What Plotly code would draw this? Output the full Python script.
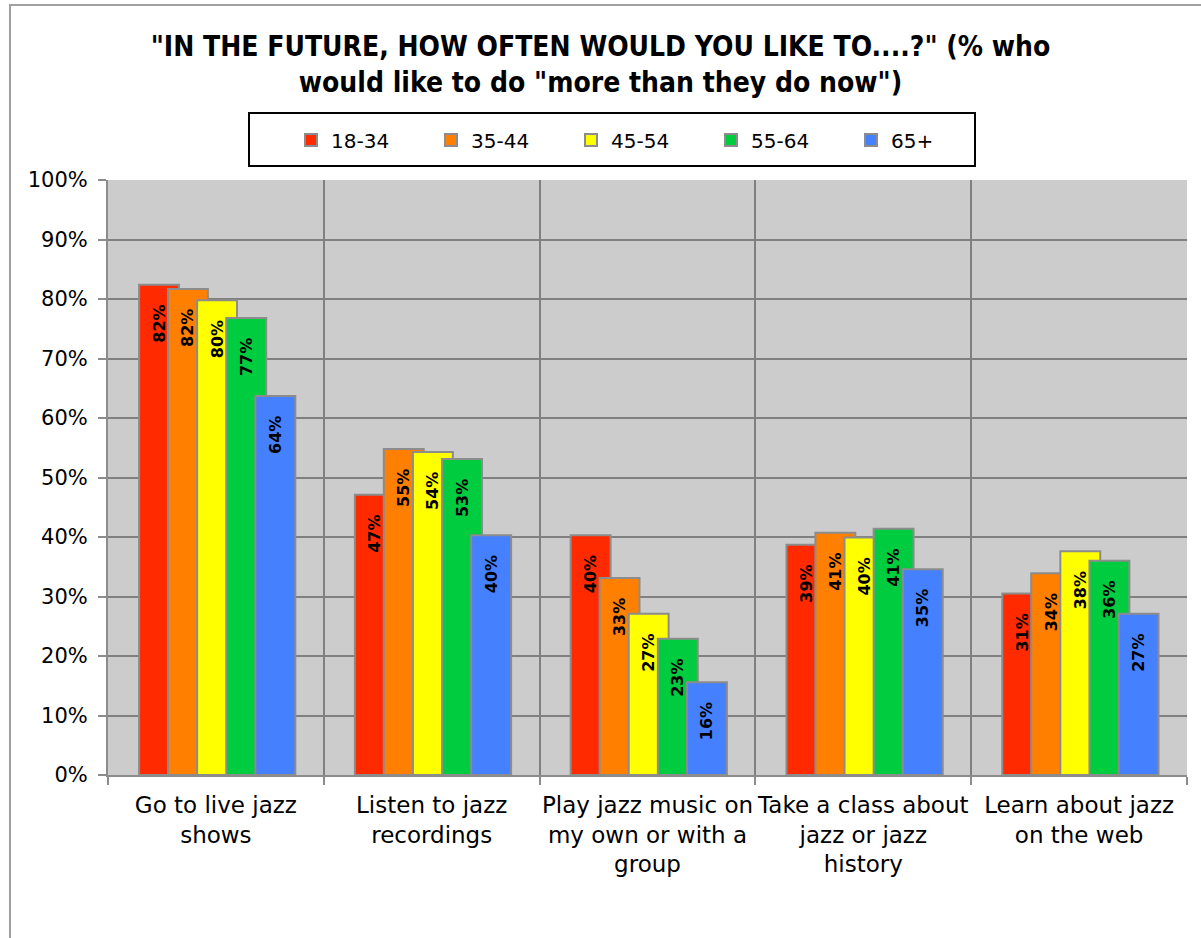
import plotly.graph_objects as go

# Survey data: share (%) who would like to do each activity more than now
activities = [
    "Go to live jazz<br>shows",
    "Listen to jazz<br>recordings",
    "Play jazz music on<br>my own or with a<br>group",
    "Take a class about<br>jazz or jazz<br>history",
    "Learn about jazz<br>on the web",
]
age_groups = ["18-34", "35-44", "45-54", "55-64", "65+"]

pct_18_34 = [82.4, 47.1, 40.3, 38.7, 30.5]
pct_35_44 = [81.7, 54.8, 33.1, 40.7, 33.9]
pct_45_54 = [79.8, 54.3, 27.1, 39.9, 37.6]
pct_55_64 = [76.8, 53.1, 22.9, 41.4, 36.0]
pct_65_up = [63.7, 40.3, 15.6, 34.6, 27.1]

series = [pct_18_34, pct_35_44, pct_45_54, pct_55_64, pct_65_up]
colors = ["#ff2a00", "#ff7f00", "#ffff00", "#00cc40", "#4580ff"]

# overlapping bars: each slot is 40px wide in a ~216px category
bar_width = 0.185
offsets = [-0.356, -0.222, -0.087, 0.048, 0.183]

W, H = 1201, 938
L, R, T, B = 108, 14, 180, 163
pw, ph = W - L - R, H - T - B


def px_x(x):
    return (x - L) / pw


def px_y(y):
    return (H - B - y) / ph


NBSP = "\u00a0"

fig = go.Figure()
for name, vals, col, off in zip(age_groups, series, colors, offsets):
    fig.add_trace(go.Bar(
        x=activities, y=vals, name=name,
        offset=off, width=bar_width,
        marker=dict(color=col, line=dict(color="#8c8c8c", width=2)),
        texttemplate="%{y:.0f}%" + NBSP * 3,
        textposition="inside", insidetextanchor="end",
        textangle=-90, constraintext="none",
        insidetextfont=dict(family="DejaVu Sans", size=16, color="black", weight="bold"),
    ))

fig.update_layout(
    width=W, height=H,
    barmode="overlay",
    margin=dict(l=L, r=R, t=T, b=B, autoexpand=False),
    paper_bgcolor="white",
    plot_bgcolor="#cccccc",
    title=dict(
        text='"IN THE FUTURE, HOW OFTEN WOULD YOU LIKE TO....?" (% who<br>would like to do "more than they do now")',
        x=0.5, xref="container", xanchor="center",
        y=1 - 56 / H, yanchor="middle",
        font=dict(family="DejaVu Sans Condensed", size=28, color="black", weight="bold"),
    ),
    legend=dict(
        orientation="h",
        x=px_x(291), xanchor="left",
        y=px_y(140), yanchor="middle",
        entrywidth=95, entrywidthmode="pixels",
        font=dict(family="DejaVu Sans", size=20, color="black"),
        bgcolor="rgba(0,0,0,0)", borderwidth=0,
        traceorder="normal",
    ),
    xaxis=dict(
        type="category", range=[-0.5, 4.5],
        tickson="boundaries", ticks="outside", ticklen=8, tickwidth=2, tickcolor="#8c8c8c",
        showgrid=True, gridcolor="#808080", gridwidth=2,
        showline=True, linecolor="#8c8c8c", linewidth=2,
        tickangle=0, automargin=False,
        ticklabelstandoff=8,
        tickfont=dict(family="DejaVu Sans", size=23, color="black"),
    ),
    yaxis=dict(
        range=[0, 100], dtick=10, ticksuffix="%",
        ticks="outside", ticklen=8, tickwidth=2, tickcolor="#8c8c8c",
        showgrid=True, gridcolor="#808080", gridwidth=2,
        showline=True, linecolor="#8c8c8c", linewidth=2,
        zeroline=False, automargin=False,
        ticklabelstandoff=6,
        tickfont=dict(family="DejaVu Sans", size=21, color="black"),
    ),
    showlegend=True,
    shapes=[
        # legend frame
        dict(type="rect", xref="paper", yref="paper",
             x0=px_x(249), x1=px_x(975), y0=px_y(166), y1=px_y(113),
             line=dict(color="black", width=2), fillcolor="rgba(0,0,0,0)", layer="above"),
        # chart-area border
        dict(type="rect", xref="paper", yref="paper",
             x0=px_x(10), x1=px_x(1230), y0=px_y(960), y1=px_y(5),
             line=dict(color="#a0a0a0", width=2), fillcolor="rgba(0,0,0,0)", layer="below"),
    ],
)

fig.write_html("out.html")
